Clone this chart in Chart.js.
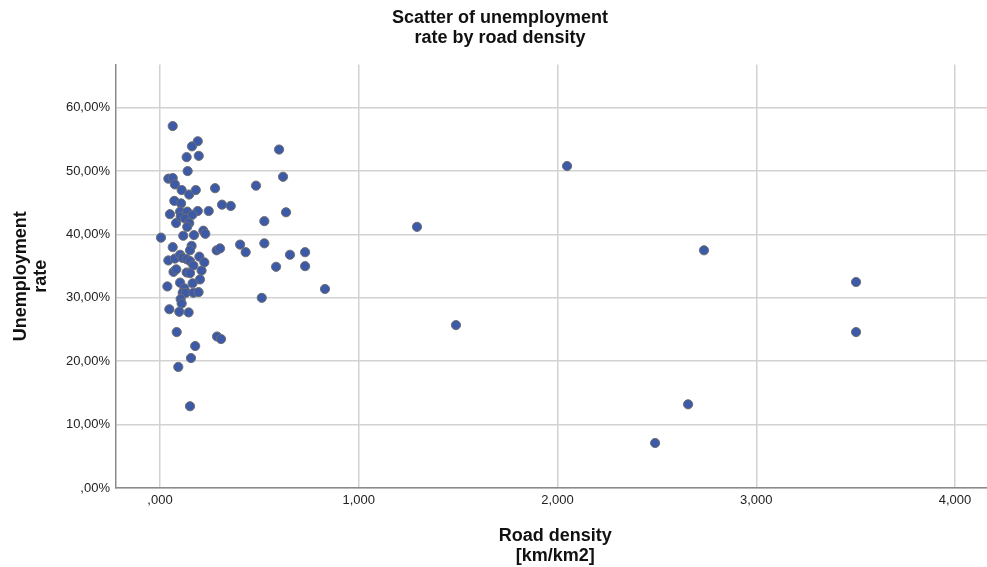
<!DOCTYPE html>
<html>
<head>
<meta charset="utf-8">
<script src="https://cdn.jsdelivr.net/npm/chart.js@4/dist/chart.umd.min.js"></script>
<style>
  html, body { margin: 0; padding: 0; overflow: hidden; background: #ffffff; }
  #wrap { width: 1000px; height: 567px; }
</style>
</head>
<body>
<div id="wrap"><canvas id="chart" width="1000" height="567"></canvas></div>
<script>
// Road density per region [km/km2]
const roadDensity = [
  0.064, 0.190, 0.161, 0.134, 0.195, 0.139, 0.042, 0.064, 0.075, 0.109,
  0.147, 0.180, 0.277, 0.483, 0.072, 0.106, 0.312, 0.356, 0.245, 0.190,
  0.050, 0.101, 0.137, 0.081, 0.104, 0.126, 0.163, 0.147, 0.137, 0.218,
  0.228, 0.005, 0.117, 0.171, 0.064, 0.159, 0.151, 0.285, 0.302, 0.403,
  0.525, 0.431, 0.654, 0.730, 0.042, 0.075, 0.101, 0.114, 0.134, 0.151,
  0.168, 0.198, 0.223, 0.068, 0.082, 0.134, 0.151, 0.209, 0.201, 0.037,
  0.101, 0.164, 0.123, 0.114, 0.131, 0.168, 0.194, 0.104, 0.109, 0.047,
  0.097, 0.144, 0.084, 0.287, 0.307, 0.177, 0.156, 0.092, 0.151, 0.525,
  0.634, 0.619, 0.599, 0.584, 0.730, 0.830, 0.512,
  2.048, 1.293, 1.489, 2.737, 2.657, 2.491, 3.502, 3.502
];

// Unemployment rate per region (share of labour force)
const unemploymentRate = [
  0.571, 0.547, 0.539, 0.522, 0.524, 0.500, 0.488, 0.489, 0.479, 0.470,
  0.463, 0.470, 0.473, 0.477, 0.453, 0.449, 0.447, 0.445, 0.437, 0.437,
  0.432, 0.436, 0.436, 0.418, 0.428, 0.425, 0.431, 0.418, 0.412, 0.406,
  0.401, 0.395, 0.398, 0.399, 0.380, 0.382, 0.375, 0.375, 0.378, 0.384,
  0.386, 0.372, 0.368, 0.372, 0.359, 0.362, 0.368, 0.363, 0.361, 0.358,
  0.351, 0.365, 0.356, 0.341, 0.345, 0.340, 0.339, 0.343, 0.329, 0.318,
  0.324, 0.323, 0.315, 0.308, 0.308, 0.308, 0.309, 0.298, 0.291, 0.282,
  0.278, 0.277, 0.246, 0.239, 0.235, 0.224, 0.205, 0.191, 0.129, 0.421,
  0.435, 0.491, 0.534, 0.349, 0.350, 0.314, 0.300,
  0.508, 0.412, 0.257, 0.375, 0.132, 0.071, 0.325, 0.246
];

const xTickValues = [0, 1, 2, 3, 4];
const yTickValues = [0, 0.1, 0.2, 0.3, 0.4, 0.5, 0.6];

// Comma as decimal separator, no leading zero (",000", "1,000", ",00%")
function fmtNumber(v, digits) {
  let s = v.toFixed(digits).replace('.', ',');
  if (s.startsWith('0,')) s = s.slice(1);
  return s;
}

const points = roadDensity.map((x, i) => ({ x: x, y: unemploymentRate[i] }));

const boldFont = { family: "'Liberation Sans', Arial, sans-serif", size: 18, weight: 'bold', lineHeight: 1.1 };
const tickFont = { family: "'Liberation Sans', Arial, sans-serif", size: 13 };

new Chart(document.getElementById('chart'), {
  type: 'scatter',
  data: {
    datasets: [{
      data: points,
      backgroundColor: '#3d5aa8',
      borderColor: '#6e6e6e',
      borderWidth: 1,
      pointRadius: 4.6,
      pointHoverRadius: 4.6
    }]
  },
  options: {
    responsive: false,
    animation: false,
    events: [],
    layout: { padding: { left: 0, right: 0, top: 0, bottom: 0 } },
    plugins: {
      legend: { display: false },
      tooltip: { enabled: false },
      title: {
        display: true,
        text: ['Scatter of unemployment', 'rate by road density'],
        color: '#111111',
        font: boldFont,
        padding: { top: 8, bottom: 17 }
      }
    },
    scales: {
      x: {
        type: 'linear',
        min: -0.2214,
        max: 4.198,
        afterBuildTicks: s => { s.ticks = xTickValues.map(v => ({ value: v })); },
        afterFit: s => { s.height = 79; },
        ticks: {
          color: '#222222',
          font: tickFont,
          padding: 5,
          maxRotation: 0,
          callback: v => fmtNumber(v, 3)
        },
        grid: { color: '#d2d2d2', lineWidth: 1.5, drawTicks: false },
        border: { display: true, color: '#8a8a8a', width: 1.5 },
        title: {
          display: true,
          text: ['Road density', '[km/km2]'],
          color: '#111111',
          font: boldFont,
          padding: { top: 0, bottom: 1 }
        }
      },
      y: {
        type: 'linear',
        min: 0,
        max: 0.668,
        afterBuildTicks: s => { s.ticks = yTickValues.map(v => ({ value: v })); },
        afterFit: s => { s.width = 116; },
        ticks: {
          color: '#222222',
          font: tickFont,
          padding: 6,
          callback: v => fmtNumber(v * 100, 2) + '%'
        },
        grid: { color: '#d2d2d2', lineWidth: 1.5, drawTicks: false },
        border: { display: true, color: '#8a8a8a', width: 1.5 },
        title: {
          display: true,
          text: ['Unemployment', 'rate'],
          color: '#111111',
          font: boldFont,
          padding: { top: 11, bottom: 0 }
        }
      }
    }
  }
});
</script>
</body>
</html>
